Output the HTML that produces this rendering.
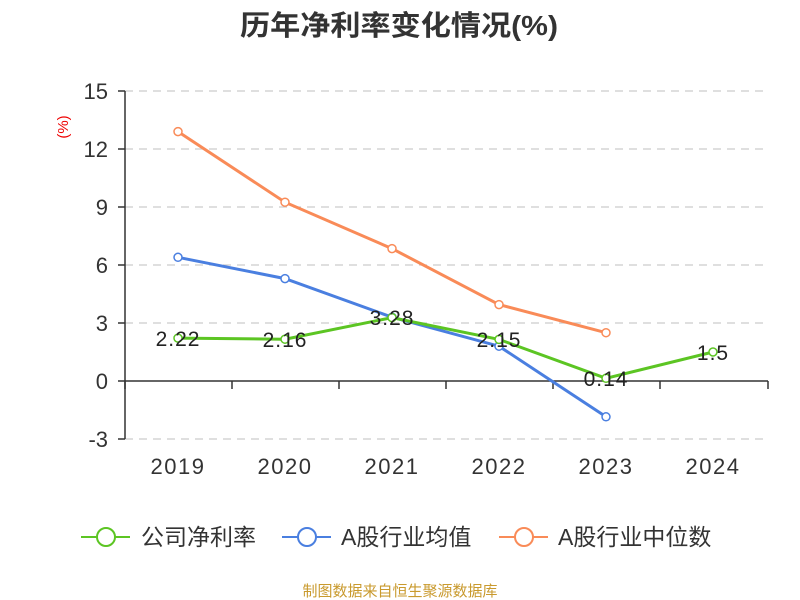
<!DOCTYPE html>
<html><head><meta charset="utf-8"><style>body{margin:0;background:#fff}svg{display:block}text{font-family:"Liberation Sans","Noto Sans CJK SC",sans-serif}</style></head><body>
<svg width="800" height="600" viewBox="0 0 800 600" xmlns="http://www.w3.org/2000/svg">
<rect width="800" height="600" fill="#fff"/>
<text x="240" y="35" font-size="28" font-weight="bold" fill="#333" textLength="318" lengthAdjust="spacingAndGlyphs">历年净利率变化情况(%)</text>
<text x="68" y="127" font-size="15" fill="#e00" text-anchor="middle" transform="rotate(-90 68 127)">(%)</text>
<g stroke="#ccc" stroke-dasharray="8,6" stroke-width="1.2">
<line x1="125" y1="91" x2="768" y2="91"/><line x1="125" y1="149" x2="768" y2="149"/><line x1="125" y1="207" x2="768" y2="207"/><line x1="125" y1="265" x2="768" y2="265"/><line x1="125" y1="323" x2="768" y2="323"/><line x1="125" y1="439" x2="768" y2="439"/>
</g>
<g stroke="#333" stroke-width="1.5">
<line x1="125" y1="91" x2="125" y2="439"/><line x1="125" y1="381" x2="768" y2="381"/>
<line x1="118" y1="91" x2="125" y2="91"/><line x1="118" y1="149" x2="125" y2="149"/><line x1="118" y1="207" x2="125" y2="207"/><line x1="118" y1="265" x2="125" y2="265"/><line x1="118" y1="323" x2="125" y2="323"/><line x1="118" y1="381" x2="125" y2="381"/><line x1="118" y1="439" x2="125" y2="439"/>
<line x1="125" y1="381" x2="125" y2="389"/><line x1="232" y1="381" x2="232" y2="389"/><line x1="339" y1="381" x2="339" y2="389"/><line x1="446" y1="381" x2="446" y2="389"/><line x1="553" y1="381" x2="553" y2="389"/><line x1="660" y1="381" x2="660" y2="389"/><line x1="768" y1="381" x2="768" y2="389"/>
</g>
<g font-size="22" fill="#333" text-anchor="end">
<text x="108" y="99">15</text><text x="108" y="157">12</text><text x="108" y="215">9</text><text x="108" y="273">6</text><text x="108" y="331">3</text><text x="108" y="389">0</text><text x="108" y="447">-3</text>
</g>
<g font-size="22" fill="#333" text-anchor="middle" letter-spacing="1.5">
<text x="178" y="474">2019</text><text x="285" y="474">2020</text><text x="392" y="474">2021</text><text x="499" y="474">2022</text><text x="606" y="474">2023</text><text x="713" y="474">2024</text>
</g>
<polyline fill="none" stroke="#f98b58" stroke-width="3" points="178,131.6 285,202.2 392,248.6 499,304.6 606,332.7"/>
<polyline fill="none" stroke="#4a7fe0" stroke-width="3" points="178,257.3 285,278.6 392,317.2 499,346.2 606,416.8"/>
<polyline fill="none" stroke="#5cc523" stroke-width="3" points="178,338.1 285,339.2 392,317.6 499,339.4 606,378.3 713,352"/>
<g fill="#fff" stroke-width="1.5">
<g stroke="#f98b58"><circle cx="178" cy="131.6" r="4"/><circle cx="285" cy="202.2" r="4"/><circle cx="392" cy="248.6" r="4"/><circle cx="499" cy="304.6" r="4"/><circle cx="606" cy="332.7" r="4"/></g>
<g stroke="#4a7fe0"><circle cx="178" cy="257.3" r="4"/><circle cx="285" cy="278.6" r="4"/><circle cx="392" cy="317.2" r="4"/><circle cx="499" cy="346.2" r="4"/><circle cx="606" cy="416.8" r="4"/></g>
<g stroke="#5cc523"><circle cx="178" cy="338.1" r="4"/><circle cx="285" cy="339.2" r="4"/><circle cx="392" cy="317.6" r="4"/><circle cx="499" cy="339.4" r="4"/><circle cx="606" cy="378.3" r="4"/><circle cx="713" cy="352" r="4"/></g>
</g>
<g font-size="21" fill="#222" text-anchor="middle" letter-spacing="1">
<text x="178" y="346">2.22</text><text x="285" y="347">2.16</text><text x="392" y="325">3.28</text><text x="499" y="347">2.15</text><text x="606" y="386">0.14</text><text x="713" y="360">1.5</text>
</g>
<g stroke-width="2" fill="#fff">
<line x1="81" y1="537" x2="130" y2="537" stroke="#5cc523"/><circle cx="106" cy="537" r="9" stroke="#5cc523"/>
<line x1="282" y1="537" x2="331" y2="537" stroke="#4a7fe0"/><circle cx="307" cy="537" r="9" stroke="#4a7fe0"/>
<line x1="499" y1="537" x2="548" y2="537" stroke="#f98b58"/><circle cx="524" cy="537" r="9" stroke="#f98b58"/>
</g>
<g font-size="23" fill="#333">
<text x="141" y="545">公司净利率</text><text x="341" y="545">A股行业均值</text><text x="558" y="545">A股行业中位数</text>
</g>
<text x="400" y="596" text-anchor="middle" font-size="15" fill="#c99a2e">制图数据来自恒生聚源数据库</text>
</svg>
</body></html>
